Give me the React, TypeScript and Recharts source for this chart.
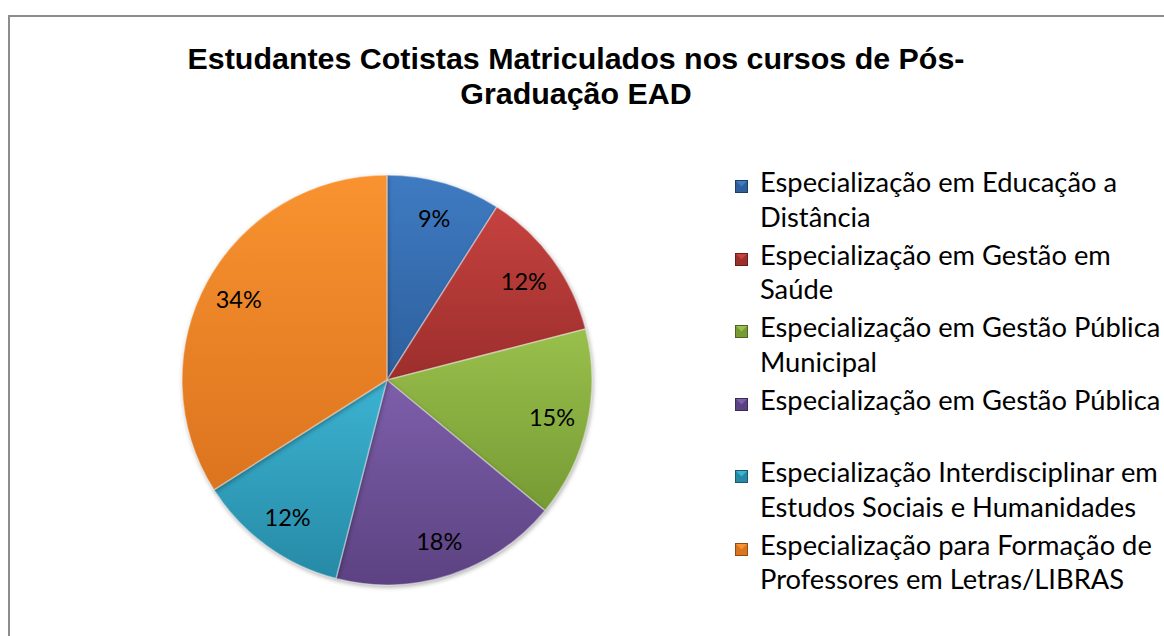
import { Cell, Legend, Pie, PieChart } from "recharts";

const courses = [
  "Especialização em Educação a Distância",
  "Especialização em Gestão em Saúde",
  "Especialização em Gestão Pública Municipal",
  "Especialização em Gestão Pública",
  "Especialização Interdisciplinar em Estudos Sociais e Humanidades",
  "Especialização para Formação de Professores em Letras/LIBRAS",
];

// percentual de estudantes cotistas por curso
const shares = [9, 12, 15, 18, 12, 34];

const lightColors = ["#3f7bc2", "#c5423f", "#99bf4c", "#7d5faa", "#3cb3d1", "#f9922f"];
const darkColors = ["#2d5f9c", "#9c2e2c", "#779b34", "#5c4282", "#268aa6", "#db741e"];

const pieData = courses.map((name, i) => ({ name, value: shares[i] }));

const TITLE = "Estudantes Cotistas Matriculados nos cursos de Pós-Graduação EAD";
const bodyFont = "Lato, 'Open Sans', sans-serif";
const RADIAN = Math.PI / 180;

function renderLabel(props: any) {
  const { cx, cy, midAngle, outerRadius, percent } = props;
  const r = outerRadius * 0.825;
  const x = cx + r * Math.cos(-midAngle * RADIAN);
  const y = cy + r * Math.sin(-midAngle * RADIAN);
  return (
    <text
      x={x}
      y={y}
      textAnchor="middle"
      dominantBaseline="central"
      fill="#000"
      fontFamily={bodyFont}
      fontSize={23.5}
    >
      {`${Math.round(percent * 100)}%`}
    </text>
  );
}

function LegendBox() {
  return (
    <div style={{ fontFamily: bodyFont, fontSize: 27.3, lineHeight: "34.5px", color: "#000" }}>
      {courses.map((name, i) => (
        <div key={name} style={{ display: "flex", height: 72.5 }}>
          <svg width={13} height={13} style={{ marginTop: 15, marginLeft: 2, flexShrink: 0 }}>
            <rect width={13} height={13} fill={darkColors[i]} />
            <polygon points="1,1 12,1 6.5,6.5" fill={lightColors[i]} />
            <rect x={0.5} y={0.5} width={12} height={12} fill="none" stroke="rgba(0,0,0,0.35)" />
          </svg>
          <div style={{ marginLeft: 12, width: 408 }}>{name}</div>
        </div>
      ))}
    </div>
  );
}

export default function App() {
  return (
    <div
      style={{
        position: "fixed",
        left: 0,
        top: 0,
        width: 1164,
        height: 636,
        background: "#fff",
        overflow: "hidden",
      }}
    >
      <style>{`.recharts-pie-sector { filter: drop-shadow(1px 2px 2px rgba(0,0,0,0.3)); }`}</style>
      <div
        style={{
          position: "absolute",
          left: 8,
          top: 15,
          width: 1170,
          height: 640,
          borderTop: "2px solid #8c8c8c",
          borderLeft: "2px solid #8c8c8c",
        }}
      />
      <div
        style={{
          position: "absolute",
          left: 156,
          top: 41,
          width: 840,
          textAlign: "center",
          fontFamily: "'Liberation Sans', Arial, sans-serif",
          fontWeight: 700,
          fontSize: 30.4,
          lineHeight: "34.5px",
          color: "#000",
        }}
      >
        {TITLE}
      </div>
      <div style={{ position: "absolute", left: 0, top: 0 }}>
        <PieChart width={1164} height={636} margin={{ top: 0, right: 0, bottom: 0, left: 0 }}>
          <defs>
            {courses.map((name, i) => (
              <linearGradient key={name} id={`slice-${i}`} x1="0" y1="0" x2="0" y2="1">
                <stop offset="0%" stopColor={lightColors[i]} />
                <stop offset="100%" stopColor={darkColors[i]} />
              </linearGradient>
            ))}
          </defs>
          <Pie
            data={pieData}
            dataKey="value"
            nameKey="name"
            cx={387}
            cy={380}
            outerRadius={205}
            startAngle={90}
            endAngle={-270}
            label={renderLabel}
            labelLine={false}
            isAnimationActive={false}
          >
            {pieData.map((entry, i) => (
              <Cell
                key={entry.name}
                fill={`url(#slice-${i})`}
                stroke="rgba(255,255,255,0.4)"
                strokeWidth={1.5}
              />
            ))}
          </Pie>
          <Legend
            content={() => <LegendBox />}
            wrapperStyle={{ left: 733, top: 165, width: 431, bottom: "auto", right: "auto" }}
          />
        </PieChart>
      </div>
    </div>
  );
}
